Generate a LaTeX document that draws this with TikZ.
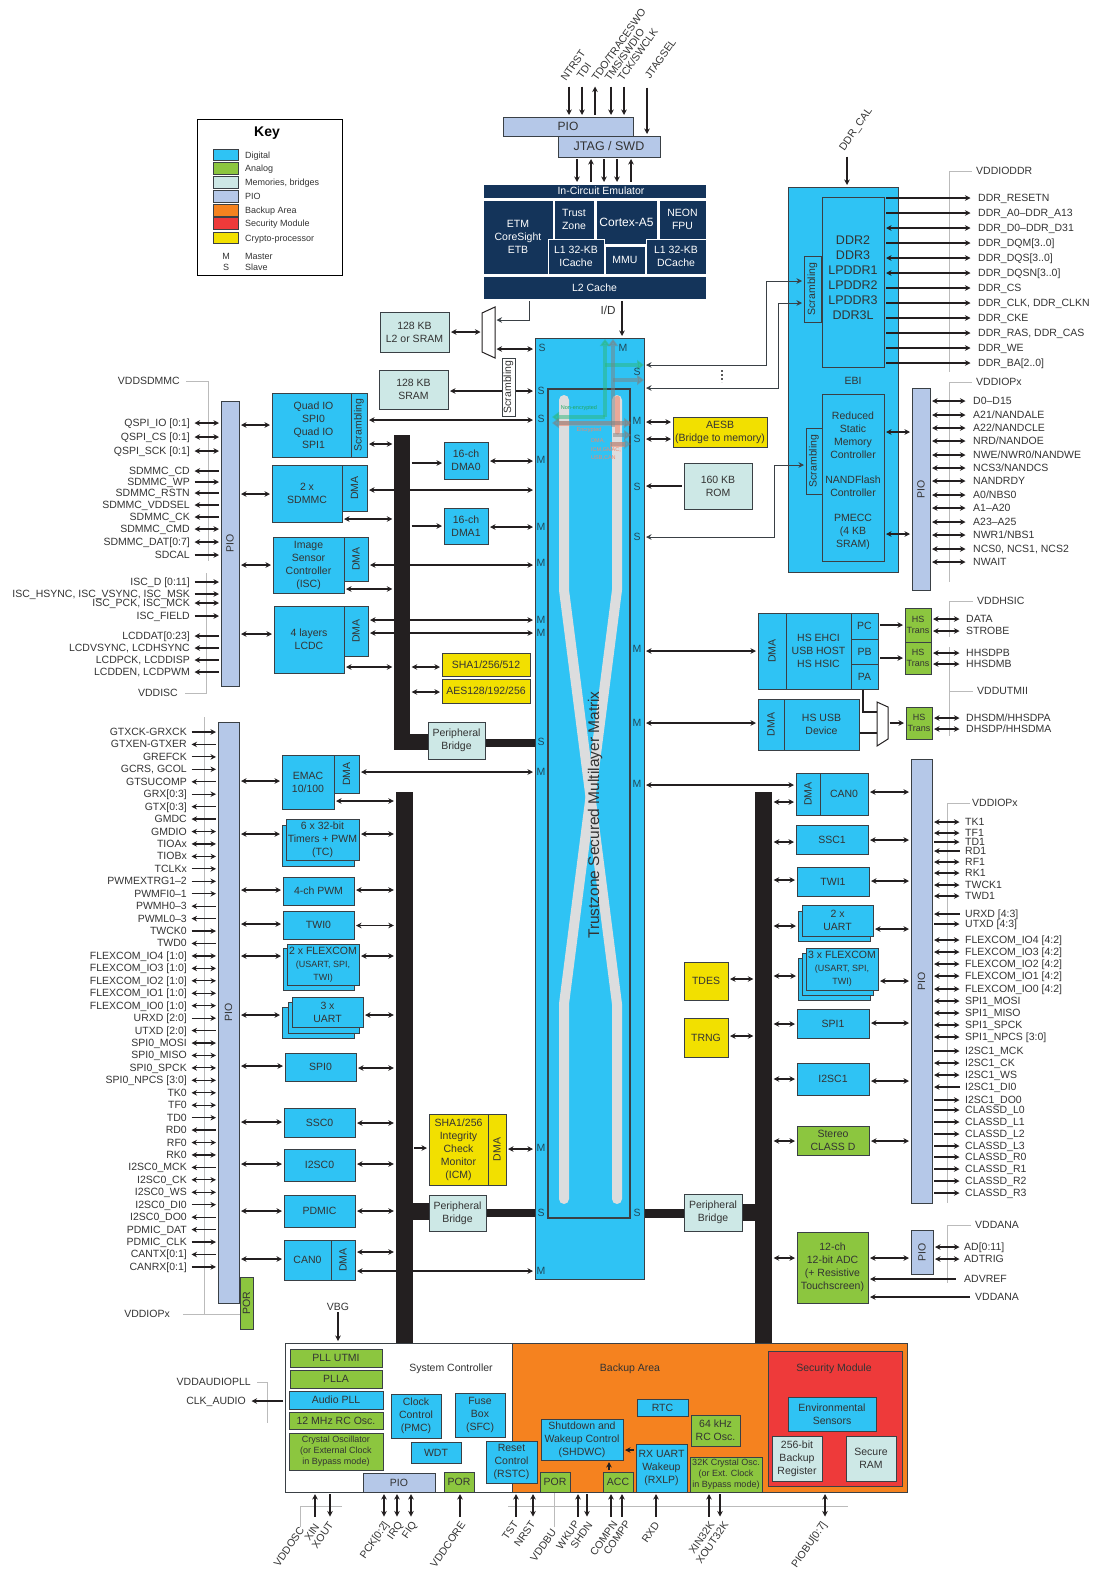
\documentclass[tikz,border=0pt]{standalone}
\usepackage{fontspec}
\setmainfont{Liberation Sans}
\usetikzlibrary{arrows.meta,calc}
\definecolor{digc}{HTML}{2FC3F4}
\definecolor{anac}{HTML}{8CC63F}
\definecolor{memc}{HTML}{CDE8E6}
\definecolor{pioc}{HTML}{B5C8E8}
\definecolor{bakc}{HTML}{F5821F}
\definecolor{secc}{HTML}{EE3A3A}
\definecolor{cryc}{HTML}{F2E000}
\definecolor{navc}{HTML}{14345A}
\definecolor{edgc}{HTML}{3A4045}
\definecolor{bk}{HTML}{231F20}
\definecolor{tx}{HTML}{333333}
\definecolor{gryc}{HTML}{BBBBBB}
\definecolor{bndc}{HTML}{DCDDDE}
\definecolor{letc}{HTML}{1F4A5C}
\definecolor{ovgc}{HTML}{2DB87A}
\definecolor{ovtg}{HTML}{1FA860}
\definecolor{ovrc}{HTML}{F2876B}
\newcommand{\smf}{\fontsize{9}{11}\selectfont}
\newcommand{\vt}[1]{\rotatebox{90}{#1}}
\newcommand{\hcon}[4][arb]{\draw[#1] (#2 |- 0,#4) -- (#3 |- 0,#4);}
\newcommand{\vcon}[4][ar]{\draw[#1] (#4,0 |- #2) -- (#4,0 |- #3);}
\begin{document}
\begin{tikzpicture}[x=1pt, y=-1pt,
  every node/.style={font=\fontsize{10.5}{13}\selectfont, text=tx, inner sep=0pt, align=center},
  sz/.style 2 args={minimum width=#1, minimum height=#2},
  box/.style={draw=edgc, line width=1pt},
  dig/.style={box, fill=digc},
  ana/.style={box, fill=anac},
  mem/.style={box, fill=memc},
  pio/.style={box, fill=pioc},
  bak/.style={box, fill=bakc},
  sec/.style={box, fill=secc},
  cry/.style={box, fill=cryc},
  navy/.style={fill=navc, draw=white, line width=1pt, text=white},
  busv/.style={fill=bk},
  bl/.style={draw=bk, line width=#1},
  ar/.style={-{Stealth[length=5.5pt,width=5.5pt]}, draw=bk, line width=1.2pt, shorten <=1.5pt, shorten >=1.5pt},
  arl/.style={{Stealth[length=5.5pt,width=5.5pt]}-, draw=bk, line width=1.2pt, shorten <=1.5pt, shorten >=1.5pt},
  arb/.style={{Stealth[length=5.5pt,width=5.5pt]}-{Stealth[length=5.5pt,width=5.5pt]}, draw=bk, line width=1.2pt, shorten <=1.5pt, shorten >=1.5pt},
  ln/.style={draw=bk, line width=1.2pt},
  gry/.style={draw=gryc, line width=1pt},
  pl/.style={anchor=east, inner xsep=#1, text height=7.5pt, text depth=0.5pt},
  pl/.default=3pt,
  pr/.style={anchor=west, inner xsep=#1, text height=7.5pt, text depth=0.5pt},
  pr/.default=3pt,
  rotl/.style={rotate=55, anchor=west},
  rotr/.style={rotate=55, anchor=east},
  keyt/.style={anchor=west, font=\smf, text height=6.5pt, text depth=0.5pt},
  lett/.style={text=letc},
  ovg/.style={draw=ovgc, line width=4.5pt, opacity=.5, -{Triangle[length=7pt,width=10pt]}},
  ovk/.style={draw=black!50, line width=4.5pt, opacity=.5, -{Triangle[length=7pt,width=10pt]}},
  ovr/.style={draw=ovrc, line width=5pt, opacity=.6},
  ovt/.style={font=\fontsize{5.5}{8.5}\selectfont}]
  \useasboundingbox (0,0) rectangle (1094,1577);

  \node[draw=black, line width=1pt, sz={145}{156}] (key) at (269.5,197) {};
  \node[font=\bfseries\fontsize{14}{16}\selectfont, text=black] (keyh) at (267,133) {Key};
  \foreach \cl/\y/\lbl [count=\i] in {dig/155/Digital, ana/168.5/Analog, mem/182.5/{Memories, bridges},
      pio/196.5/PIO, bak/210.5/Backup Area, sec/223.5/Security Module, cry/238/Crypto-processor}{
    \node[\cl, sz={25}{11.5}] (sw\i) at (225.5,\y) {};
    \node[keyt] (kt\i) at (245,\y) {\lbl};
  }
  \node[font=\smf] (keym) at (226,256) {M};
  \node[font=\smf] (keys) at (226,267) {S};
  \node[keyt] (keyma) at (245,256) {Master};
  \node[keyt] (keysl) at (245,267) {Slave};

  \node[pio, sz={130}{19}, font=\fontsize{12}{14}\selectfont] (piot) at (568,126.5) {PIO};
  \node[pio, sz={102}{21}, font=\fontsize{12.5}{14}\selectfont] (jtag) at (609,146.5) {JTAG / SWD};
  \node[navy, sz={223}{14}] (ice) at (594.5,191) {\hspace*{13pt}In-Circuit Emulator};
  \node[navy, sz={70}{74}] (etm) at (518,237) {ETM\\CoreSight\\ETB};
  \node[navy, sz={40}{39}] (trust) at (574,219.5) {Trust\\Zone};
  \node[navy, sz={61}{44}, font=\fontsize{12}{13}\selectfont] (cortex) at (626.5,222) {Cortex-A5};
  \node[navy, sz={47}{39}] (neon) at (682.5,219.5) {NEON\\FPU};
  \node[navy, sz={56}{35}] (l1i) at (576,256.5) {L1 32-KB\\ICache};
  \node[navy, sz={40}{28}] (mmu) at (625,260) {MMU};
  \node[navy, sz={60}{35}] (l1d) at (676,256.5) {L1 32-KB\\DCache};
  \node[navy, sz={223}{23}] (l2c) at (594.5,287.5) {L2 Cache};

  \foreach \x/\st in {569/ar,582/ar,595/arl,611/ar,624/ar}{
    \coordinate (tp\x) at (\x,85);
    \draw[\st] (tp\x) -- (tp\x |- piot.north);
  }
  \coordinate (jsel) at (647,86);
  \draw[ar] (jsel) -- (jsel |- jtag.north);
  \foreach \x/\st in {577/ar,591/arl,604/ar,617/ar,631/arl}{
    \vcon[\st]{jtag.south}{ice.north}{\x}
  }
  \node[rotl] (lntrst) at (563,80) {NTRST};
  \node[rotl] (ltdi) at (579,78) {TDI};
  \node[rotl] (ltdo) at (594,80) {TDO/TRACESWO};
  \node[rotl] (ltms) at (607,80) {TMS/SWDIO};
  \node[rotl] (ltck) at (620,80) {TCK/SWCLK};
  \node[rotl] (ljsel) at (647,78) {JTAGSEL};
  \node[font=\fontsize{11.7}{13}\selectfont] (lid) at (608,310) {I/D};

  \node[dig, sz={109}{941}] (mat) at (589.5,808.5) {};
  \node[box, line width=1.2pt, sz={82}{829}] (inner) at (589,803.5) {};
  \draw[draw=bndc, line width=10pt, line cap=round, line join=round] (564,400) -- (564,590) -- (617,1004) -- (617,1199);
  \draw[draw=bndc, line width=10pt, line cap=round, line join=round] (617,400) -- (617,590) -- (564,1004) -- (564,1199);
  \node[font=\fontsize{15.5}{17}\selectfont] (mtxt) at (595,815) {\vt{Trustzone Secured Multilayer Matrix}};
  \draw[ovr, line cap=round] (617,398) -- (617,432);
  \draw[ovr] (559,423) -- (569,423);
  \draw[ovr] (610,444) -- (625,444);
  \draw[ovr, opacity=.3] (569,423) -- (630,423);
  \draw[ovg] (605,417) -- (605,339);
  \draw[ovg] (605,417) -- (552,417);
  \draw[ovg] (605,365) -- (644,365);
  \draw[ovk] (613,427) -- (613,339);
  \draw[ovk] (613,380) -- (644,380);
  \draw[ovk] (570,423) -- (552,423);
  \draw[ovk] (570,423) -- (631,423);
  \draw[ovk] (613,435) -- (631,435);
  \draw[ovk, opacity=.35] (611,444) -- (631,444);
  \node[ovt, text=ovtg] (tnon) at (579,408) {Non-encrypted};
  \node[ovt, text=ovrc] (tenc) at (589,430) {Encrypted};
  \node[ovt, text=ovrc, align=left, anchor=north west] (tdma) at (591,439) {DMA,\\ICM,GMAC,\\USB,CAN};
  \foreach \x/\y/\t [count=\i] in {542/348/S,541/391/S,541/419/S,541/460/M,541/527/M,541/563/M,541/620/M,541/633/M,
      541/742/S,541/772/M,541/1148/M,541/1213/S,541/1271/M,623/348/M,637/372/S,637/421/M,637/439/S,637/487/S,
      637/537/S,637/649/M,637/723/M,637/784/M,637/1213/S}{
    \node[lett] (mp\i) at (\x,\y) {\t};
  }

  \node[mem, sz={69}{40}] (l2sr) at (414.5,332) {128 KB\\L2 or SRAM};
  \node[mem, sz={69}{39}] (sram) at (413.5,389.5) {128 KB\\SRAM};
  \draw[draw=bk, line width=1pt, fill=white] (482,313) -- (495,307) -- (495,358) -- (482,352) -- cycle;
  \coordinate (mxl) at (482,332);
  \coordinate (mxr) at (495,349);
  \coordinate (mxt) at (495,320);
  \draw[ar, line width=1pt, draw=edgc] (l2c.south -| 529,0) |- (mxt);
  \vcon[ar]{l2c.south}{mat.north}{622}
  \hcon{l2sr.east}{mxl}{332}
  \hcon{mxr}{mat.west}{349}
  \hcon{sram.east}{mat.west}{391}
  \node[box, fill=white, sz={13}{58}] (scra) at (508.5,387) {\vt{Scrambling}};

  \node[dig, sz={79}{64}] (qspi) at (311.5,425) {\hspace*{4pt}Quad IO\\\hspace*{4pt}SPI0\\\hspace*{4pt}Quad IO\\\hspace*{4pt}SPI1};
  \node[dig, sz={16}{64}] (qscr) at (359,425) {\vt{Scrambling}};
  \node[dig, sz={70}{57}] (sdmmc) at (307,493.5) {2 x\\SDMMC};
  \node[dig, sz={25}{46}] (sdd) at (354.5,488) {\vt{DMA}};
  \node[dig, sz={71}{56}] (isc) at (308.5,565) {Image\\Sensor\\Controller\\(ISC)};
  \node[dig, sz={24}{44}] (iscd) at (356,559) {\vt{DMA}};
  \node[dig, sz={70}{67}] (lcdc) at (309,639.5) {4 layers\\LCDC};
  \node[dig, sz={24}{50}] (lcdd) at (356,631) {\vt{DMA}};
  \node[dig, sz={44}{37}] (dma0) at (466,460.5) {16-ch\\DMA0};
  \node[dig, sz={44}{36}] (dma1) at (466,526) {16-ch\\DMA1};
  \node[cry, sz={88}{23}] (sha) at (486,664.5) {SHA1/256/512};
  \node[cry, sz={88}{24}] (aes) at (486,691) {AES128/192/256};
  \node[busv, sz={16}{315}] (busa) at (402,592.5) {};
  \node[mem, sz={57}{37}] (bra) at (456.5,740.5) {Peripheral\\Bridge};
  \node[pio, sz={18}{285}] (pioa) at (230,543.5) {\vt{PIO}};

  \node[pio, sz={21}{581}] (piob) at (228.5,1012.5) {\vt{PIO}};
  \node[ana, sz={13}{52}] (porb) at (246.5,1303) {\vt{POR}};
  \node[dig, sz={52}{54}] (emac) at (308,782) {EMAC\\10/100};
  \node[dig, sz={25}{38}] (emacd) at (346.5,774) {\vt{DMA}};
  \node[dig, sz={72}{40.5}] (tcb) at (318,845.75) {};
  \node[dig, sz={73}{41}] (tcf) at (322.5,839.5) {6 x 32-bit\\Timers + PWM\\(TC)};
  \node[dig, sz={71}{28}] (pwm) at (318.5,891) {4-ch PWM};
  \node[dig, sz={71}{28}] (twi0) at (318.5,925) {TWI0};
  \node[dig, sz={71}{41.5}] (flb) at (318.5,969.25) {};
  \node[dig, sz={72}{41}] (flf) at (323,964.5) {2 x FLEXCOM\\{\smf (USART, SPI,}\\{\smf TWI)}};
  \node[dig, sz={72}{31}] (uc) at (318,1022.5) {};
  \node[dig, sz={71}{31}] (ub) at (323.5,1017.5) {};
  \node[dig, sz={71}{30}] (ua) at (327.5,1012) {3 x\\UART};
  \node[dig, sz={71}{28}] (spi0) at (320.5,1067) {SPI0};
  \node[dig, sz={71}{29}] (ssc0) at (319.5,1122.5) {SSC0};
  \node[dig, sz={71}{32}] (i2s0) at (319.5,1165) {I2SC0};
  \node[dig, sz={71}{32}] (pdm) at (319.5,1211) {PDMIC};
  \node[dig, sz={47}{40}] (can0) at (307.5,1260) {CAN0};
  \node[dig, sz={24}{40}] (can0d) at (343,1260) {\vt{DMA}};
  \node[cry, sz={59}{71}] (icm) at (458.5,1149.5) {SHA1/256\\Integrity\\Check\\Monitor\\(ICM)};
  \node[cry, sz={18}{71}] (icmd) at (497,1149.5) {\vt{DMA}};
  \node[mem, sz={57}{36}] (brb) at (457.5,1213) {Peripheral\\Bridge};
  \node[busv, sz={17}{551}] (busb) at (404,1067.5) {};

  \node[cry, sz={94}{30}] (aesb) at (720,432) {AESB\\(Bridge to memory)};
  \node[mem, sz={68}{46}] (rom) at (718,486) {160 KB\\ROM};
  \node[dig, sz={110}{385}] (ebi) at (843,379.5) {};
  \node (lebi) at (853,381) {EBI};
  \node[dig, sz={62}{170}] (ddr) at (853,282) {};
  \node[font=\fontsize{12.5}{15}\selectfont] (tddr) at (853,278) {DDR2\\DDR3\\LPDDR1\\LPDDR2\\LPDDR3\\DDR3L};
  \node[dig, sz={17}{66}] (scrb) at (812.5,289) {\vt{Scrambling}};
  \node[dig, sz={62}{167}] (smc) at (853,477.5) {};
  \node (tsmc) at (853,481) {Reduced\\Static\\Memory\\Controller\\[12pt]NANDFlash\\Controller\\[12pt]PMECC\\(4 KB\\SRAM)};
  \node[dig, sz={16}{66}] (scrc) at (814,461) {\vt{Scrambling}};
  \node[pio, sz={18}{202}] (pioe) at (921,489) {\vt{PIO}};

  \node[dig, sz={28}{76}] (usbd) at (772,651) {\vt{DMA}};
  \node[dig, sz={65}{76}] (usbh) at (818.5,651) {HS EHCI\\USB HOST\\HS HSIC};
  \node[dig, sz={27}{26}] (pc) at (864.5,626) {PC};
  \node[dig, sz={27}{25}] (pb) at (864.5,651.5) {PB};
  \node[dig, sz={27}{25}] (pa) at (864.5,676.5) {PA};
  \node[dig, sz={26}{51}] (devd) at (771,724.5) {\vt{DMA}};
  \node[dig, sz={75}{51}] (dev) at (821.5,724.5) {HS USB\\Device};
  \node[ana, sz={26}{34}, font=\smf] (tra) at (918,625) {HS\\Trans};
  \node[ana, sz={26}{32}, font=\smf] (trb) at (918,658) {HS\\Trans};
  \node[ana, sz={26}{32}, font=\smf] (trc) at (919,723) {HS\\Trans};
  \draw[draw=bk, line width=1pt, fill=white] (877,702) -- (888,707) -- (888,739) -- (877,746) -- cycle;
  \coordinate (mxc) at (877,712);
  \coordinate (mxd) at (877,733);
  \coordinate (mxe) at (888,723);

  \node[pio, sz={21}{444}] (piof) at (921.5,981) {\vt{PIO}};
  \node[dig, sz={24}{42}] (cand) at (808,794) {\vt{DMA}};
  \node[dig, sz={48}{42}] (canr) at (844,794) {CAN0};
  \node[dig, sz={72}{29}] (ssc1) at (832,839.5) {SSC1};
  \node[dig, sz={72}{29}] (twi1) at (833,881.5) {TWI1};
  \node[dig, sz={72}{30}] (urb) at (834,926) {};
  \node[dig, sz={71}{31}] (urf) at (837.5,920.5) {2 x\\UART};
  \node[dig, sz={72}{42}] (fla) at (834,979) {};
  \node[dig, sz={71}{42}] (flm) at (837.5,974) {};
  \node[dig, sz={72}{42}] (flc) at (842,969) {3 x FLEXCOM\\{\smf (USART, SPI,}\\{\smf TWI)}};
  \node[dig, sz={72}{29}] (spi1) at (833,1023.5) {SPI1};
  \node[dig, sz={72}{32}] (i2s1) at (833,1079) {I2SC1};
  \node[ana, sz={72}{29}] (cld) at (833,1140.5) {Stereo\\CLASS D};
  \node[ana, sz={71}{71}] (adc) at (832.5,1267.5) {12-ch\\12-bit ADC\\(+ Resistive\\Touchscreen)};
  \node[pio, sz={22}{44}] (piog) at (922,1252) {\vt{PIO}};
  \node[cry, sz={44}{38}] (tdes) at (706,981) {TDES};
  \node[cry, sz={44}{39}] (trng) at (706,1037.5) {TRNG};
  \node[mem, sz={58}{37}] (brc) at (713,1212.5) {Peripheral\\Bridge};
  \node[busv, sz={17}{551}] (busc) at (763.5,1067.5) {};

  \node[box, fill=white, sz={227}{149}] (sysc) at (398.5,1417.5) {};
  \node[bak, sz={395}{149}] (bkup) at (709.5,1417.5) {};
  \node (tsys) at (451,1368.5) {System Controller};
  \node (tbak) at (630,1368.5) {Backup Area};
  \node[ana, sz={92}{18}] (pllu) at (336,1358) {PLL UTMI};
  \node[ana, sz={92}{18}] (plla) at (336,1379) {PLLA};
  \node[dig, sz={94}{18}] (apll) at (336,1400) {Audio PLL};
  \node[ana, sz={94}{17}] (rc12) at (336,1420.5) {12 MHz RC Osc.};
  \node[ana, sz={94}{37}, font=\smf] (xtal) at (336,1451.5) {Crystal Oscillator\\(or External Clock\\in Bypass mode)};
  \node[dig, sz={50}{44}] (pmc) at (416,1416) {Clock\\Control\\(PMC)};
  \node[dig, sz={50}{44}] (sfc) at (480,1415) {Fuse\\Box\\(SFC)};
  \node[dig, sz={50}{21}] (wdt) at (436,1452.5) {WDT};
  \node[dig, sz={51}{42}] (rstc) at (511.5,1462) {Reset\\Control\\(RSTC)};
  \node[pio, sz={72}{19}] (piod) at (399,1482.5) {PIO};
  \node[ana, sz={30}{20}] (pora) at (459,1482) {POR};
  \node[ana, sz={30}{20}] (porc) at (555,1482) {POR};
  \node[ana, sz={30}{20}] (acc) at (618,1482) {ACC};
  \node[dig, sz={82}{41}] (shdwc) at (582,1439.5) {Shutdown and\\Wakeup Control\\(SHDWC)};
  \node[dig, sz={51}{17}] (rtc) at (662.5,1407.5) {RTC};
  \node[ana, sz={49}{31}] (khz) at (715.5,1430.5) {64 kHz\\RC Osc.};
  \node[dig, sz={51}{48}] (rxlp) at (661.5,1468) {RX UART\\Wakeup\\(RXLP)};
  \node[ana, sz={72}{35}, font=\smf] (x32) at (726,1474.5) {32K Crystal Osc.\\(or Ext. Clock\\in Bypass mode)};
  \node[sec, sz={134}{135}] (secm) at (835,1418.5) {};
  \node (tsec) at (834,1368.5) {Security Module};
  \node[dig, sz={88}{34}] (env) at (832,1414) {Environmental\\Sensors};
  \node[mem, sz={50}{45}] (bbr) at (797,1458.5) {256-bit\\Backup\\Register};
  \node[mem, sz={50}{45}] (sra2) at (871,1458.5) {Secure\\RAM};

  \hcon[bl=16]{busa.west}{bra.west}{742}
  \hcon[bl=8]{bra.east}{mat.west}{743}
  \hcon[bl=17]{busb.east}{brb.west}{1211.5}
  \hcon[bl=8]{brb.east}{mat.west}{1213}
  \hcon[bl=9]{mat.east}{brc.west}{1213.5}
  \hcon[bl=17]{brc.east}{busc.west}{1212.5}

  \hcon{pioa.east}{qspi.west}{425}
  \hcon{pioa.east}{sdmmc.west}{494}
  \hcon{pioa.east}{isc.west}{565}
  \hcon{pioa.east}{lcdc.west}{634}
  \hcon{qscr.east}{mat.west}{420}
  \hcon{qscr.east}{busa.west}{444}
  \hcon{sdd.east}{mat.west}{490}
  \hcon{sdmmc.east}{busa.west}{519}
  \hcon{iscd.east}{mat.west}{565}
  \hcon{isc.east}{busa.west}{589}
  \hcon{lcdd.east}{mat.west}{620}
  \hcon{lcdd.east}{mat.west}{633}
  \hcon{lcdc.east}{busa.west}{667}
  \hcon[ar]{busa.east}{dma0.west}{463}
  \hcon{dma0.east}{mat.west}{461}
  \hcon[ar]{busa.east}{dma1.west}{526}
  \hcon{dma1.east}{mat.west}{527}
  \hcon{busa.east}{sha.west}{667}
  \hcon{busa.east}{aes.west}{692}

  \hcon{piob.east}{emac.west}{781}
  \hcon{emacd.east}{mat.west}{772}
  \hcon{emac.east}{busb.west}{801}
  \hcon{piob.east}{tcb.west}{834}
  \hcon{tcf.east}{busb.west}{834}
  \hcon{piob.east}{pwm.west}{890}
  \hcon{pwm.east}{busb.west}{890}
  \hcon{piob.east}{twi0.west}{924}
  \hcon{twi0.east}{busb.west}{925.5}
  \hcon{piob.east}{flb.west}{956}
  \hcon{flf.east}{busb.west}{956}
  \hcon{piob.east}{uc.west}{1015}
  \hcon{ua.east}{busb.west}{1015}
  \hcon{piob.east}{spi0.west}{1066}
  \hcon{spi0.east}{busb.west}{1068}
  \hcon{piob.east}{ssc0.west}{1122}
  \hcon{ssc0.east}{busb.west}{1123}
  \hcon{piob.east}{i2s0.west}{1164}
  \hcon{i2s0.east}{busb.west}{1164}
  \hcon{piob.east}{pdm.west}{1211}
  \hcon{pdm.east}{busb.west}{1211}
  \hcon{piob.east}{can0.west}{1259}
  \hcon{can0d.east}{busb.west}{1252}
  \hcon{can0d.east}{mat.west}{1271}
  \hcon[ar]{busb.east}{icm.west}{1148}
  \hcon{icmd.east}{mat.west}{1149}

  \hcon{mat.east}{aesb.west}{422}
  \hcon{mat.east}{aesb.west}{439}
  \hcon[arl]{mat.east}{rom.west}{486}
  \draw[arb, line width=1pt, draw=edgc] (mat.east |- 0,365) -- (766,365) |- (scrb.west |- 0,281);
  \draw[arb, line width=1pt, draw=edgc] (mat.east |- 0,388) -- (778,388) |- (scrb.west |- 0,303);
  \draw[arb, line width=1pt, draw=edgc] (mat.east |- 0,537) -- (774,537) |- (scrc.west |- 0,465);
  \draw[draw=black!65, line width=1.2pt, dash pattern=on 2pt off 2pt] (722,370) -- (722,382);
  \coordinate (dcal) at (847,155);
  \draw[ar] (dcal) -- (dcal |- ebi.north);
  \node[rotl] (lcal) at (842,150) {DDR\_CAL};
  \hcon{smc.east}{pioe.west}{432}
  \hcon{smc.east}{pioe.west}{534}

  \hcon{mat.east}{usbd.west}{651}
  \hcon{mat.east}{devd.west}{723}
  \hcon{mat.east}{cand.west}{785}
  \hcon[ar]{pc.east}{tra.west}{625}
  \hcon[ar]{pb.east}{trb.west}{658}
  \draw[ln] (pa.south -| 863,0) |- (mxc);
  \draw[ln] (dev.east |- mxd) -- (mxd);
  \draw[ar] (mxe) -- (trc.west |- mxe);
  \hcon{busc.east}{cand.west}{802}
  \hcon{canr.east}{piof.west}{792}
  \hcon{busc.east}{ssc1.west}{842}
  \hcon{ssc1.east}{piof.west}{840}
  \hcon{busc.east}{twi1.west}{880}
  \hcon{twi1.east}{piof.west}{881}
  \hcon{busc.east}{urb.west}{926}
  \hcon{urf.east}{piof.west}{929}
  \hcon{busc.east}{fla.west}{976}
  \hcon{flc.east}{piof.west}{981}
  \hcon{tdes.east}{busc.west}{979}
  \hcon{trng.east}{busc.west}{1036}
  \hcon{busc.east}{spi1.west}{1024}
  \hcon{spi1.east}{piof.west}{1023}
  \hcon{busc.east}{i2s1.west}{1079}
  \hcon{i2s1.east}{piof.west}{1081}
  \hcon{busc.east}{cld.west}{1141}
  \hcon{cld.east}{piof.west}{1141}
  \hcon{busc.east}{adc.west}{1258}
  \hcon{adc.east}{piog.west}{1258}

  \hcon[ar]{rxlp.west}{shdwc.east}{1450}
  \vcon[ar]{acc.north}{shdwc.south}{609}

  \node[pr=4pt] (vddr) at (972,171) {VDDIODDR};
  \node[pr=4pt] (vdpa) at (972,382) {VDDIOPx};
  \node[pr=4pt] (vhsi) at (973,601) {VDDHSIC};
  \node[pr=4pt] (vutm) at (973,691) {VDDUTMII};
  \node[pr=2pt] (vdpb) at (970,803) {VDDIOPx};
  \node[pr=4pt] (vana) at (971,1225) {VDDANA};
  \node[pl=6pt] (vsdm) at (186,381) {VDDSDMMC};
  \node[pl=7pt] (visc) at (185,693) {VDDISC};
  \node[pl=13pt] (vdpc) at (183,1314) {VDDIOPx};
  \node[pl=6pt] (vaud) at (257,1382) {VDDAUDIOPLL};
  \coordinate (rla) at (949,372);
  \coordinate (rlb) at (949,582);
  \coordinate (rlc) at (949,637);
  \coordinate (rld) at (949,647);
  \coordinate (rle) at (949,736);
  \coordinate (rlf) at (947,1203);
  \coordinate (rlg) at (947,1283);
  \coordinate (rlh) at (208,561);
  \coordinate (rli) at (206,573);
  \coordinate (rlj) at (204.5,717);
  \coordinate (rlk) at (267,1423);
  \draw[gry] (vddr.west) -| (rla);
  \draw[gry] (vdpa.west) -| (rlb);
  \draw[gry] (vhsi.west) -| (rlc);
  \draw[gry] (rld) -- (rle);
  \draw[gry] (vutm.west) -- (vutm.west -| rld);
  \draw[gry] (vdpb.west) -| (rlf);
  \draw[gry] (vana.west) -| (rlg);
  \draw[gry] (vsdm.east) -| (rlh);
  \draw[gry] (visc.east) -| (rli);
  \draw[gry] (vdpc.east) -- (vdpc.east -| porb.west);
  \draw[gry] (rlj) -- (rlj |- vdpc.east);
  \draw[gry] (vaud.east) -| (rlk);
  \coordinate (rlm) at (342,1506);
  \coordinate (rln) at (300,1527);
  \coordinate (rlo) at (508,1506);
  \coordinate (rlp) at (848,1506);
  \coordinate (rlq) at (554,1527);
  \draw[gry] (rlm) -| (rln);
  \draw[gry] (rlo) -- (rlp);
  \draw[gry] (rlq) -- (rlq |- sysc.south);

  \foreach \y/\lbl/\st [count=\i] in {423/QSPI\_IO [0:1]/arb, 437/QSPI\_CS [0:1]/arb, 451/QSPI\_SCK [0:1]/arb,
      471/SDMMC\_CD/arl, 482/SDMMC\_WP/ar, 493/SDMMC\_RSTN/arl, 505/SDMMC\_VDDSEL/arl, 517/SDMMC\_CK/arl,
      529/SDMMC\_CMD/arb, 542/SDMMC\_DAT[0:7]/arb, 555/SDCAL/ar, 582/ISC\_D [0:11]/ar,
      594/{ISC\_HSYNC, ISC\_VSYNC, ISC\_MSK}/ar, 603/{ISC\_PCK, ISC\_MCK}/arb, 616/ISC\_FIELD/ar,
      636/LCDDAT[0:23]/arl, 648/{LCDVSYNC, LCDHSYNC}/arl, 660/{LCDPCK, LCDDISP}/arl, 672/{LCDDEN, LCDPWM}/arl}{
    \node[pl] (lu\i) at (193,\y) {\lbl};
    \draw[\st] (lu\i.east) -- (lu\i.east -| pioa.west);
  }
  \foreach \lbl/\st [count=\i, evaluate=\i as \y using 719.56+\i*12.44] in {GTXCK-GRXCK/ar, GTXEN-GTXER/arl, GREFCK/ar,
      {GCRS, GCOL}/ar, GTSUCOMP/arl, GRX[0:3]/ar, GTX[0:3]/arl, GMDC/arl, GMDIO/arb, TIOAx/arb, TIOBx/arb, TCLKx/ar,
      PWMEXTRG1–2/ar, PWMFI0–1/ar, PWMH0–3/arl, PWML0–3/arl, TWCK0/ar, TWD0/arl,
      FLEXCOM\_IO4 [1:0]/arb, FLEXCOM\_IO3 [1:0]/arb, FLEXCOM\_IO2 [1:0]/arb, FLEXCOM\_IO1 [1:0]/arb, FLEXCOM\_IO0 [1:0]/arb,
      URXD [2:0]/ar, UTXD [2:0]/arl, SPI0\_MOSI/arb, SPI0\_MISO/arb, SPI0\_SPCK/arb, SPI0\_NPCS [3:0]/arb,
      TK0/arb, TF0/arb, TD0/ar, RD0/arl, RF0/arb, RK0/arb, I2SC0\_MCK/arl, I2SC0\_CK/arb, I2SC0\_WS/arb,
      I2SC0\_DI0/ar, I2SC0\_DO0/arl, PDMIC\_DAT/arl, PDMIC\_CLK/ar, CANTX[0:1]/arl, CANRX[0:1]/ar}{
    \node[pl] (ll\i) at (190,\y) {\lbl};
    \draw[\st] (ll\i.east) -- (ll\i.east -| piob.west);
  }
  \foreach \y/\lbl/\st [count=\i] in {198/DDR\_RESETN/ar, 213/DDR\_A0–DDR\_A13/ar, 228/DDR\_D0–DDR\_D31/arb, 243/DDR\_DQM[3..0]/ar,
      258/DDR\_DQS[3..0]/arb, 273/DDR\_DQSN[3..0]/arb, 288/DDR\_CS/ar, 303/{DDR\_CLK, DDR\_CLKN}/ar, 318/DDR\_CKE/ar,
      333/{DDR\_RAS, DDR\_CAS}/ar, 348/DDR\_WE/ar, 363/DDR\_BA[2..0]/ar}{
    \node[pr=6pt] (dq\i) at (972,\y) {\lbl};
    \draw[\st] (dq\i.west -| ddr.east) -- (dq\i.west);
  }
  \foreach \y/\lbl/\st [count=\i] in {401/{D0–D15}/arb, 415/{A21/NANDALE}/arb, 428/{A22/NANDCLE}/arb, 441/{NRD/NANDOE}/arb,
      455/{NWE/NWR0/NANDWE}/arb, 468/{NCS3/NANDCS}/arb, 481/NANDRDY/arb, 495/{A0/NBS0}/arb, 508/A1–A20/arb,
      522/A23–A25/arb, 535/{NWR1/NBS1}/arb, 549/{NCS0, NCS1, NCS2}/arb, 562/NWAIT/arb}{
    \node[pr=6pt] (pe\i) at (967,\y) {\lbl};
    \draw[\st] (pioe.east |- pe\i.west) -- (pe\i.west);
  }
  \foreach \src/\y/\lbl [count=\i] in {tra/619/DATA, tra/631/STROBE, trb/653/HHSDPB, trb/664/HHSDMB,
      trc/718/{DHSDM/HHSDPA}, trc/729/{DHSDP/HHSDMA}}{
    \node[pr=5pt] (hs\i) at (961,\y) {\lbl};
    \draw[arb] (\src.east |- hs\i.west) -- (hs\i.west);
  }
  \foreach \y/\lbl/\st [count=\i] in {822/TK1/arb, 833/TF1/arb, 842/TD1/ar, 851/RD1/arl, 862/RF1/arb, 873/RK1/arb, 885/TWCK1/arb,
      896/TWD1/arb, 914/URXD [4:3]/arl, 924/UTXD [4:3]/ar, 940/FLEXCOM\_IO4 [4:2]/arb, 952/FLEXCOM\_IO3 [4:2]/arb,
      964/FLEXCOM\_IO2 [4:2]/arb, 976/FLEXCOM\_IO1 [4:2]/arb, 989/FLEXCOM\_IO0 [4:2]/arb, 1001/SPI1\_MOSI/arb,
      1013/SPI1\_MISO/arb, 1025/SPI1\_SPCK/arb, 1037/SPI1\_NPCS [3:0]/arb, 1051/I2SC1\_MCK/ar, 1063/I2SC1\_CK/arb,
      1075/I2SC1\_WS/arb, 1087/I2SC1\_DI0/arl, 1100/I2SC1\_DO0/ar, 1110/CLASSD\_L0/ar, 1122/CLASSD\_L1/ar,
      1134/CLASSD\_L2/ar, 1146/CLASSD\_L3/ar, 1157/CLASSD\_R0/ar, 1169/CLASSD\_R1/ar, 1181/CLASSD\_R2/ar, 1193/CLASSD\_R3/ar}{
    \node[pr=4pt] (pf\i) at (961,\y) {\lbl};
    \draw[\st] (piof.east |- pf\i.west) -- (pf\i.west);
  }
  \node[pr] (lad) at (961,1247) {AD[0:11]};
  \node[pr] (ladt) at (961,1259) {ADTRIG};
  \node[pr=7pt] (ladv) at (957,1279) {ADVREF};
  \node[pr=4pt] (ladd) at (971,1297) {VDDANA};
  \draw[arb] (piog.east |- lad.west) -- (lad.west);
  \draw[arb] (piog.east |- ladt.west) -- (ladt.west);
  \draw[ar] (ladv.west) -- (adc.east |- ladv.west);
  \draw[ar] (ladd.west) -- (adc.east |- ladd.west);

  \node[pl=4pt] (lclk) at (250,1401) {CLK\_AUDIO};
  \draw[ar] (sysc.west |- lclk.east) -- (lclk.east);
  \node (lvbg) at (338,1307) {VBG};
  \draw[ar] (lvbg.south) -- (sysc.north -| lvbg.south);
  \node[rotr] (lvosc) at (302,1528) {VDDOSC};
  \node[rotr] (lvcu) at (554,1530) {VDDBU};
  \foreach \x/\lx/\ly/\lbl/\st [count=\i] in {315/317/1525/XIN/arl, 330/331/1523/XOUT/ar, 384/387/1523/PCK[0:2]/arb,
      397/401/1523/IRQ/arb, 411/415/1523/FIQ/arb, 460/463/1523/VDDCORE/arl, 516/516/1522/TST/arl, 533/533/1522/NRST/arb,
      578/577/1522/WKUP/arl, 587/590/1523/SHDN/ar, 611/615/1522/COMPN/arl, 622/628/1522/COMPP/arl, 656/657/1523/RXD/arl,
      709/712/1523/XIN32K/arl, 720/726/1523/XOUT32K/ar, 825/825/1523/PIOBU[0:7]/arb}{
    \coordinate (bt\i) at (\x,1518);
    \draw[\st] (bt\i |- sysc.south) -- (bt\i);
    \node[rotr] (lb\i) at (\lx,\ly) {\lbl};
  }
\end{tikzpicture}
\end{document}
